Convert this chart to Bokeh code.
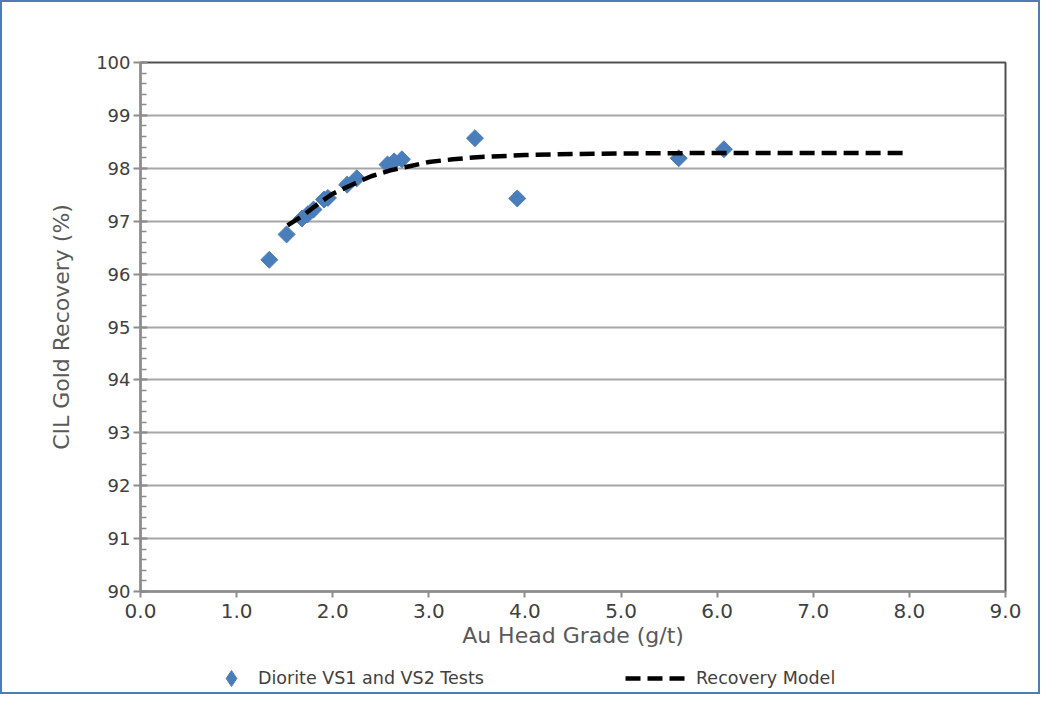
from bokeh.plotting import figure
from bokeh.layouts import column
from bokeh.models import Range1d, FixedTicker, NumeralTickFormatter, Legend, LegendItem
from bokeh.embed import file_html
from bokeh.resources import INLINE

# test results
grade = [1.34, 1.52, 1.68, 1.74, 1.80, 1.91, 1.95, 2.15, 2.25, 2.57, 2.64, 2.72, 3.48, 3.92, 5.60, 6.07]
recovery = [96.27, 96.75, 97.05, 97.13, 97.22, 97.41, 97.44, 97.69, 97.81, 98.07, 98.13, 98.17, 98.57, 97.43, 98.19, 98.36]

# recovery model curve
model_grade = [1.53, 1.7, 1.85, 2.0, 2.2, 2.4, 2.6, 2.8, 3.0, 3.25, 3.5, 4.0, 4.5, 5.0, 6.0, 7.0, 8.0]
model_recovery = [96.92, 97.12, 97.33, 97.52, 97.69, 97.85, 97.96, 98.04, 98.12, 98.17, 98.21, 98.25, 98.27, 98.28, 98.29, 98.29, 98.29]

x_ticks = [0, 1, 2, 3, 4, 5, 6, 7, 8, 9]
y_ticks = [90, 91, 92, 93, 94, 95, 96, 97, 98, 99, 100]
y_minor = [round(90 + 0.2 * i, 1) for i in range(51)]

FONT = "DejaVu Sans"
TXT = "#595959"
BLUE = "#4a7ebb"

p = figure(width=1036, height=654, output_backend="svg", toolbar_location=None,
           x_range=Range1d(0, 9), y_range=Range1d(90, 100),
           min_border_left=138, min_border_right=33, min_border_top=60, min_border_bottom=65)
p.outline_line_color = "#505050"
p.outline_line_width = 2

p.xgrid.visible = False
p.ygrid.grid_line_color = "#a6a6a6"
p.ygrid.grid_line_width = 2
p.ygrid.ticker = FixedTicker(ticks=y_ticks)

# axes
p.xaxis.ticker = FixedTicker(ticks=x_ticks)
p.xaxis.formatter = NumeralTickFormatter(format="0.0")
p.yaxis.ticker = FixedTicker(ticks=y_ticks, minor_ticks=y_minor)
p.yaxis.formatter = NumeralTickFormatter(format="0")

for ax in (p.xaxis, p.yaxis):
    ax.axis_line_color = "#8c8c8c"
    ax.axis_line_width = 2
    ax.major_tick_line_color = "#8c8c8c"
    ax.major_tick_line_width = 2
    ax.minor_tick_line_color = "#8c8c8c"
    ax.minor_tick_line_width = 1.5
    ax.minor_tick_in = 6
    ax.minor_tick_out = 0
    ax.major_label_text_font = FONT
    ax.major_label_text_color = "#404040"
    ax.axis_label_text_font = FONT
    ax.axis_label_text_font_size = "22px"
    ax.axis_label_text_font_style = "normal"
    ax.axis_label_text_color = TXT

p.xaxis.major_tick_in = 0
p.xaxis.major_tick_out = 6
p.xaxis.major_label_text_font_size = "20px"
p.yaxis.major_tick_in = 7
p.yaxis.major_tick_out = 7
p.yaxis.major_label_text_font_size = "18px"

p.xaxis.axis_label = "Au Head Grade (g/t)"
p.xaxis.major_label_standoff = 6
p.xaxis.axis_label_standoff = 2
p.yaxis.axis_label = "CIL Gold Recovery (%)"
p.yaxis.major_label_standoff = 3
p.yaxis.axis_label_standoff = 19

p.scatter(grade, recovery, marker="square", size=12, angle=0.785,
          fill_color=BLUE, line_color=BLUE)
p.line(model_grade, model_recovery, line_color="black", line_width=4.5, line_dash="15 7")

# legend strip under the chart (its frame lines up with the chart frame)
lg = figure(width=1036, height=36, output_backend="svg", toolbar_location=None,
            x_range=Range1d(0, 1), y_range=Range1d(0, 1), min_border=0)
lg.axis.visible = False
lg.grid.visible = False
lg.outline_line_color = None
# keys drawn off-screen, only their legend swatches show
pts_key = lg.scatter(x=[-5], y=[-5], marker="diamond", size=16,
                     fill_color=BLUE, line_color=BLUE)
line_key = lg.line(x=[-5, -4], y=[-5, -5], line_color="black", line_width=4.5, line_dash="15 7")

leg1 = Legend(items=[LegendItem(label="Diorite VS1 and VS2 Tests", renderers=[pts_key])],
              location=(71, -6), glyph_width=40, glyph_height=40, label_standoff=7)
leg2 = Legend(items=[LegendItem(label="Recovery Model", renderers=[line_key])],
              location=(485, 4), glyph_width=61, label_standoff=10)
for leg in (leg1, leg2):
    leg.border_line_color = None
    leg.background_fill_alpha = 0
    leg.padding = 0
    leg.margin = 0
    leg.label_text_font = FONT
    leg.label_text_font_size = "17.5px"
    leg.label_text_color = "#404040"
    lg.add_layout(leg)

page = column(p, lg, spacing=0)
page.styles = {"border": "2px solid " + BLUE}

open("out.html", "w").write(file_html(page, INLINE))
